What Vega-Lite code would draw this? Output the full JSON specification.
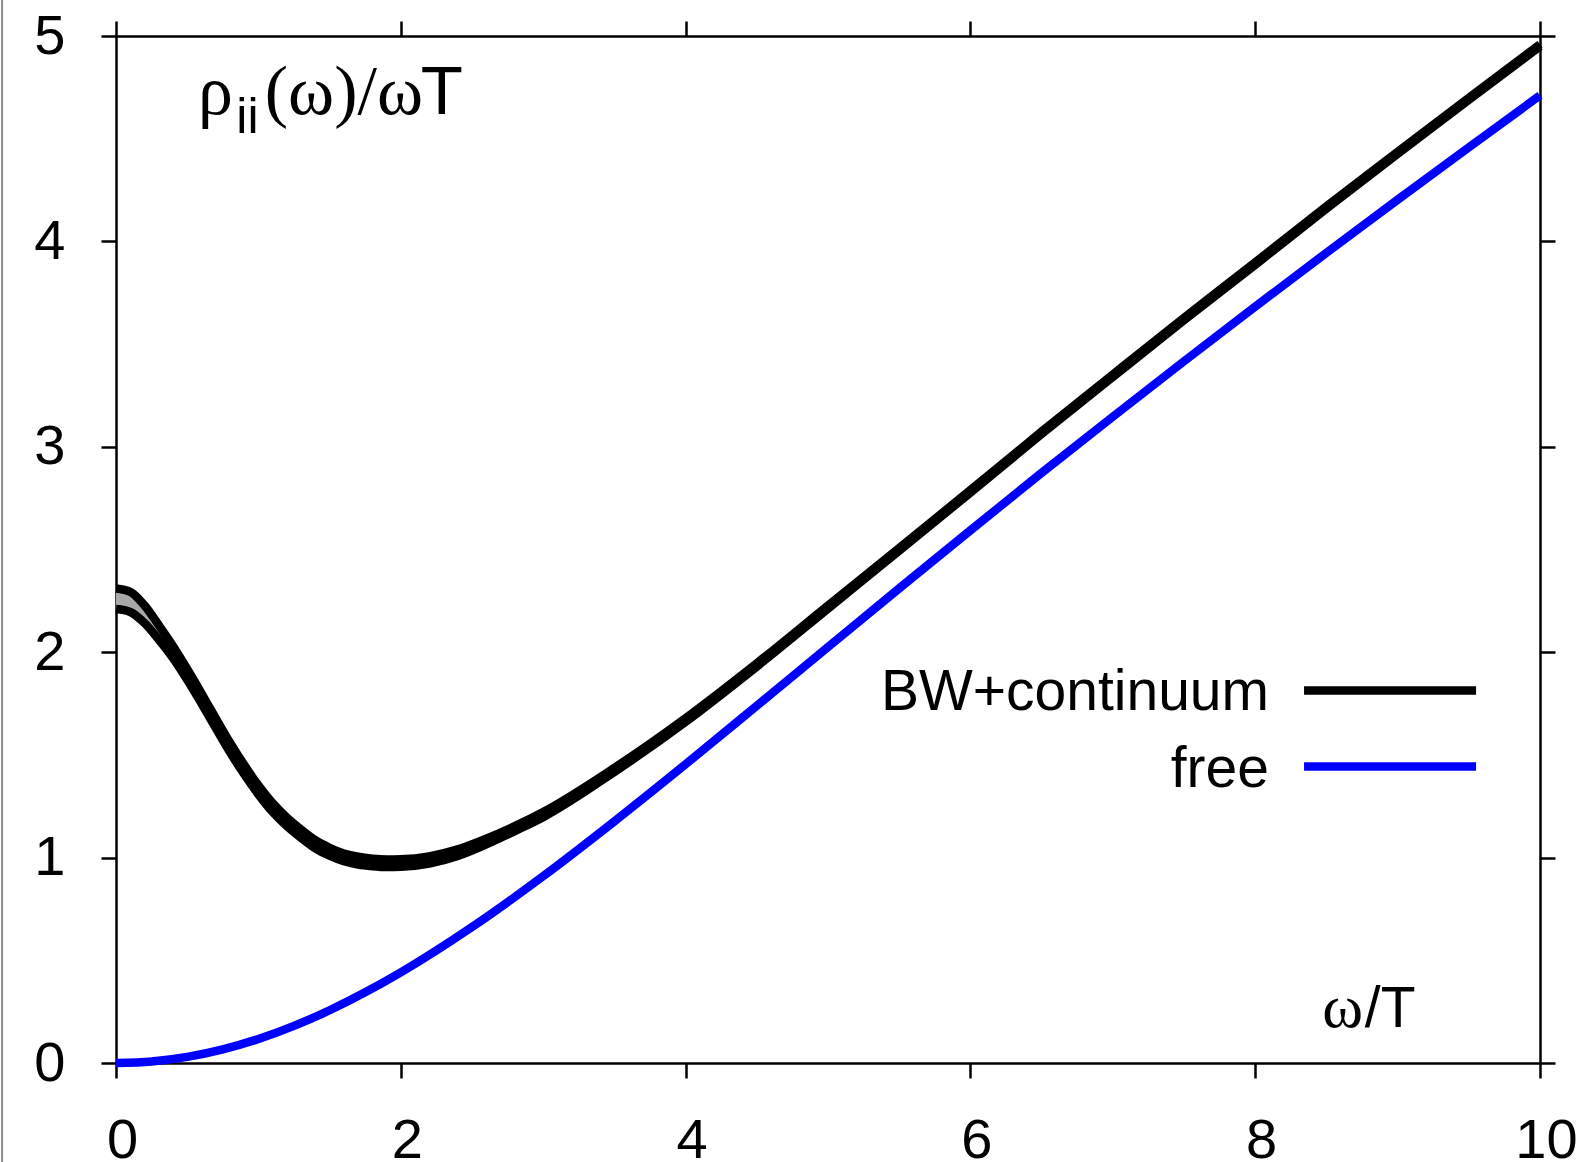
{
  "$schema": "https://vega.github.io/schema/vega-lite/v6.json",
  "width": 1424,
  "height": 1027,
  "autosize": {"type": "none"},
  "padding": {"left": 116, "top": 36, "right": 42, "bottom": 99},
  "background": "white",
  "config": {
    "view": {"stroke": null},
    "axis": {
      "grid": false,
      "title": null,
      "domainColor": "black",
      "domainWidth": 2.5,
      "tickColor": "black",
      "tickWidth": 2.5,
      "tickSize": 15,
      "labelFont": "Liberation Sans",
      "labelFontSize": 56,
      "labelColor": "black",
      "labelFlush": false,
      "labelOverlap": false,
      "labelBound": false
    }
  },
  "datasets": {
    "band": [
      {"w": 0.0, "lo": 2.210, "hi": 2.310},
      {"w": 0.1, "lo": 2.196, "hi": 2.294},
      {"w": 0.2, "lo": 2.144, "hi": 2.226},
      {"w": 0.3, "lo": 2.062, "hi": 2.127},
      {"w": 0.4, "lo": 1.979, "hi": 2.035},
      {"w": 0.5, "lo": 1.868, "hi": 1.920},
      {"w": 0.6, "lo": 1.751, "hi": 1.800},
      {"w": 0.7, "lo": 1.632, "hi": 1.679},
      {"w": 0.8, "lo": 1.514, "hi": 1.560}
    ],
    "curves": [
      {"series": "upper", "w": 0.0, "v": 2.310},
      {"series": "upper", "w": 0.1, "v": 2.294},
      {"series": "upper", "w": 0.2, "v": 2.228},
      {"series": "upper", "w": 0.3, "v": 2.132},
      {"series": "upper", "w": 0.4, "v": 2.030},
      {"series": "upper", "w": 0.5, "v": 1.918},
      {"series": "upper", "w": 0.6, "v": 1.800},
      {"series": "upper", "w": 0.7, "v": 1.679},
      {"series": "upper", "w": 0.8, "v": 1.560},
      {"series": "upper", "w": 0.9, "v": 1.451},
      {"series": "upper", "w": 1.0, "v": 1.352},
      {"series": "upper", "w": 1.1, "v": 1.265},
      {"series": "upper", "w": 1.2, "v": 1.195},
      {"series": "upper", "w": 1.3, "v": 1.137},
      {"series": "upper", "w": 1.4, "v": 1.085},
      {"series": "upper", "w": 1.5, "v": 1.048},
      {"series": "upper", "w": 1.6, "v": 1.020},
      {"series": "upper", "w": 1.7, "v": 1.004},
      {"series": "upper", "w": 1.8, "v": 0.995},
      {"series": "upper", "w": 1.9, "v": 0.991},
      {"series": "upper", "w": 2.0, "v": 0.992},
      {"series": "upper", "w": 2.2, "v": 1.006},
      {"series": "upper", "w": 2.4, "v": 1.040},
      {"series": "upper", "w": 2.6, "v": 1.092},
      {"series": "upper", "w": 2.8, "v": 1.153},
      {"series": "upper", "w": 3.0, "v": 1.222},
      {"series": "upper", "w": 3.5, "v": 1.437},
      {"series": "upper", "w": 4.0, "v": 1.679},
      {"series": "upper", "w": 4.5, "v": 1.946},
      {"series": "upper", "w": 5.0, "v": 2.227},
      {"series": "upper", "w": 5.5, "v": 2.507},
      {"series": "upper", "w": 6.0, "v": 2.789},
      {"series": "upper", "w": 6.5, "v": 3.074},
      {"series": "upper", "w": 7.0, "v": 3.352},
      {"series": "upper", "w": 7.5, "v": 3.628},
      {"series": "upper", "w": 8.0, "v": 3.898},
      {"series": "upper", "w": 8.5, "v": 4.171},
      {"series": "upper", "w": 9.0, "v": 4.436},
      {"series": "upper", "w": 9.5, "v": 4.699},
      {"series": "upper", "w": 10.0, "v": 4.959},
      {"series": "lower", "w": 0.0, "v": 2.210},
      {"series": "lower", "w": 0.1, "v": 2.196},
      {"series": "lower", "w": 0.2, "v": 2.142},
      {"series": "lower", "w": 0.3, "v": 2.062},
      {"series": "lower", "w": 0.4, "v": 1.972},
      {"series": "lower", "w": 0.5, "v": 1.866},
      {"series": "lower", "w": 0.6, "v": 1.751},
      {"series": "lower", "w": 0.7, "v": 1.632},
      {"series": "lower", "w": 0.8, "v": 1.514},
      {"series": "lower", "w": 0.9, "v": 1.406},
      {"series": "lower", "w": 1.0, "v": 1.308},
      {"series": "lower", "w": 1.1, "v": 1.222},
      {"series": "lower", "w": 1.2, "v": 1.153},
      {"series": "lower", "w": 1.3, "v": 1.096},
      {"series": "lower", "w": 1.4, "v": 1.045},
      {"series": "lower", "w": 1.5, "v": 1.009},
      {"series": "lower", "w": 1.6, "v": 0.982},
      {"series": "lower", "w": 1.7, "v": 0.966},
      {"series": "lower", "w": 1.8, "v": 0.958},
      {"series": "lower", "w": 1.9, "v": 0.954},
      {"series": "lower", "w": 2.0, "v": 0.955},
      {"series": "lower", "w": 2.2, "v": 0.971},
      {"series": "lower", "w": 2.4, "v": 1.008},
      {"series": "lower", "w": 2.6, "v": 1.064},
      {"series": "lower", "w": 2.8, "v": 1.129},
      {"series": "lower", "w": 3.0, "v": 1.197},
      {"series": "lower", "w": 3.5, "v": 1.417},
      {"series": "lower", "w": 4.0, "v": 1.661},
      {"series": "lower", "w": 4.5, "v": 1.930},
      {"series": "lower", "w": 5.0, "v": 2.212},
      {"series": "lower", "w": 5.5, "v": 2.494},
      {"series": "lower", "w": 6.0, "v": 2.777},
      {"series": "lower", "w": 6.5, "v": 3.062},
      {"series": "lower", "w": 7.0, "v": 3.340},
      {"series": "lower", "w": 7.5, "v": 3.616},
      {"series": "lower", "w": 8.0, "v": 3.886},
      {"series": "lower", "w": 8.5, "v": 4.159},
      {"series": "lower", "w": 9.0, "v": 4.426},
      {"series": "lower", "w": 9.5, "v": 4.689},
      {"series": "lower", "w": 10.0, "v": 4.949},
      {"series": "free", "w": 0.0, "v": 0.0},
      {"series": "free", "w": 0.25, "v": 0.0075},
      {"series": "free", "w": 0.5, "v": 0.0297},
      {"series": "free", "w": 0.75, "v": 0.0664},
      {"series": "free", "w": 1.0, "v": 0.1169},
      {"series": "free", "w": 1.25, "v": 0.1807},
      {"series": "free", "w": 1.5, "v": 0.2567},
      {"series": "free", "w": 1.75, "v": 0.3440},
      {"series": "free", "w": 2.0, "v": 0.4413},
      {"series": "free", "w": 2.5, "v": 0.6620},
      {"series": "free", "w": 3.0, "v": 0.9098},
      {"series": "free", "w": 3.5, "v": 1.1767},
      {"series": "free", "w": 4.0, "v": 1.4546},
      {"series": "free", "w": 4.5, "v": 1.7391},
      {"series": "free", "w": 5.0, "v": 2.0251},
      {"series": "free", "w": 5.5, "v": 2.3106},
      {"series": "free", "w": 6.0, "v": 2.5931},
      {"series": "free", "w": 6.5, "v": 2.8728},
      {"series": "free", "w": 7.0, "v": 3.1463},
      {"series": "free", "w": 7.5, "v": 3.4166},
      {"series": "free", "w": 8.0, "v": 3.6823},
      {"series": "free", "w": 8.5, "v": 3.9445},
      {"series": "free", "w": 9.0, "v": 4.2028},
      {"series": "free", "w": 9.5, "v": 4.4578},
      {"series": "free", "w": 10.0, "v": 4.7107}
    ],
    "key": [
      {"name": "BW+continuum", "ty": 1.8135, "ly": 1.718},
      {"name": "free", "ty": 1.4435, "ly": 1.346}
    ]
  },
  "resolve": {"axis": {"x": "independent", "y": "independent"}},
  "layer": [
    {
      "data": {"name": "band"},
      "mark": {"type": "area", "color": "#a9a9a9", "interpolate": "monotone"},
      "encoding": {
        "x": {"field": "w", "type": "quantitative", "scale": {"domain": [0, 10], "nice": false, "zero": false},
              "axis": {"orient": "bottom", "values": [0, 2, 4, 6, 8, 10], "format": "d", "labelPadding": 35, "labelOffset": 6}},
        "y": {"field": "lo", "type": "quantitative", "scale": {"domain": [0, 5], "nice": false, "zero": false},
              "axis": {"orient": "left", "values": [0, 1, 2, 3, 4, 5], "format": "d", "labelPadding": 36}},
        "y2": {"field": "hi"}
      }
    },
    {
      "data": {"name": "curves"},
      "mark": {"type": "line", "strokeWidth": 8.5, "interpolate": "monotone", "strokeCap": "butt"},
      "encoding": {
        "x": {"field": "w", "type": "quantitative",
              "axis": {"orient": "top", "values": [0, 2, 4, 6, 8, 10], "labels": false}},
        "y": {"field": "v", "type": "quantitative",
              "axis": {"orient": "right", "values": [0, 1, 2, 3, 4, 5], "labels": false}},
        "detail": {"field": "series"},
        "color": {"field": "series", "type": "nominal",
                  "scale": {"domain": ["upper", "lower", "free"], "range": ["#000000", "#000000", "#0000ff"]},
                  "legend": null}
      }
    },
    {
      "data": {"name": "key"},
      "mark": {"type": "rule", "strokeWidth": 8.5, "strokeCap": "butt"},
      "encoding": {
        "x": {"datum": 8.343, "type": "quantitative", "axis": null},
        "x2": {"datum": 9.551},
        "y": {"field": "ty", "type": "quantitative", "axis": null},
        "color": {"field": "name", "type": "nominal",
                  "scale": {"domain": ["BW+continuum", "free"], "range": ["#000000", "#0000ff"]},
                  "legend": null}
      }
    },
    {
      "data": {"name": "key"},
      "mark": {"type": "text", "font": "Liberation Sans", "fontSize": 57, "align": "right", "baseline": "alphabetic", "color": "black"},
      "encoding": {
        "x": {"datum": 8.097, "type": "quantitative", "axis": null},
        "y": {"field": "ly", "type": "quantitative", "axis": null},
        "text": {"field": "name"}
      }
    },
    {
      "data": {"values": [{}]},
      "mark": {"type": "rule", "color": "#8c8c8c", "strokeWidth": 2},
      "encoding": {
        "x": {"datum": -0.8, "type": "quantitative", "axis": null},
        "y": {"datum": -0.5, "type": "quantitative", "axis": null},
        "y2": {"datum": 5.2}
      }
    },
    {
      "data": {"values": [{}]},
      "mark": {"type": "text", "text": "ρ", "font": "Liberation Serif", "fontSize": 70, "align": "left", "baseline": "alphabetic", "color": "black"},
      "encoding": {
        "x": {"datum": 0.576, "type": "quantitative", "axis": null},
        "y": {"datum": 4.618, "type": "quantitative", "axis": null}
      }
    },
    {
      "data": {"values": [{}]},
      "mark": {"type": "text", "text": "ii", "font": "Liberation Sans", "fontSize": 50, "align": "left", "baseline": "alphabetic", "color": "black"},
      "encoding": {
        "x": {"datum": 0.845, "type": "quantitative", "axis": null},
        "y": {"datum": 4.530, "type": "quantitative", "axis": null}
      }
    },
    {
      "data": {"values": [{}]},
      "mark": {"type": "text", "text": "(ω)/ω", "font": "Liberation Serif", "fontSize": 70, "align": "left", "baseline": "alphabetic", "color": "black"},
      "encoding": {
        "x": {"datum": 1.045, "type": "quantitative", "axis": null},
        "y": {"datum": 4.618, "type": "quantitative", "axis": null}
      }
    },
    {
      "data": {"values": [{}]},
      "mark": {"type": "text", "text": "T", "font": "Liberation Sans", "fontSize": 69, "align": "left", "baseline": "alphabetic", "color": "black"},
      "encoding": {
        "x": {"datum": 2.14, "type": "quantitative", "axis": null},
        "y": {"datum": 4.618, "type": "quantitative", "axis": null}
      }
    },
    {
      "data": {"values": [{}]},
      "mark": {"type": "text", "text": "ω", "font": "Liberation Serif", "fontSize": 62, "align": "left", "baseline": "alphabetic", "color": "black"},
      "encoding": {
        "x": {"datum": 8.47, "type": "quantitative", "axis": null},
        "y": {"datum": 0.173, "type": "quantitative", "axis": null}
      }
    },
    {
      "data": {"values": [{}]},
      "mark": {"type": "text", "text": "/T", "font": "Liberation Sans", "fontSize": 57, "align": "left", "baseline": "alphabetic", "color": "black"},
      "encoding": {
        "x": {"datum": 8.77, "type": "quantitative", "axis": null},
        "y": {"datum": 0.173, "type": "quantitative", "axis": null}
      }
    }
  ]
}
